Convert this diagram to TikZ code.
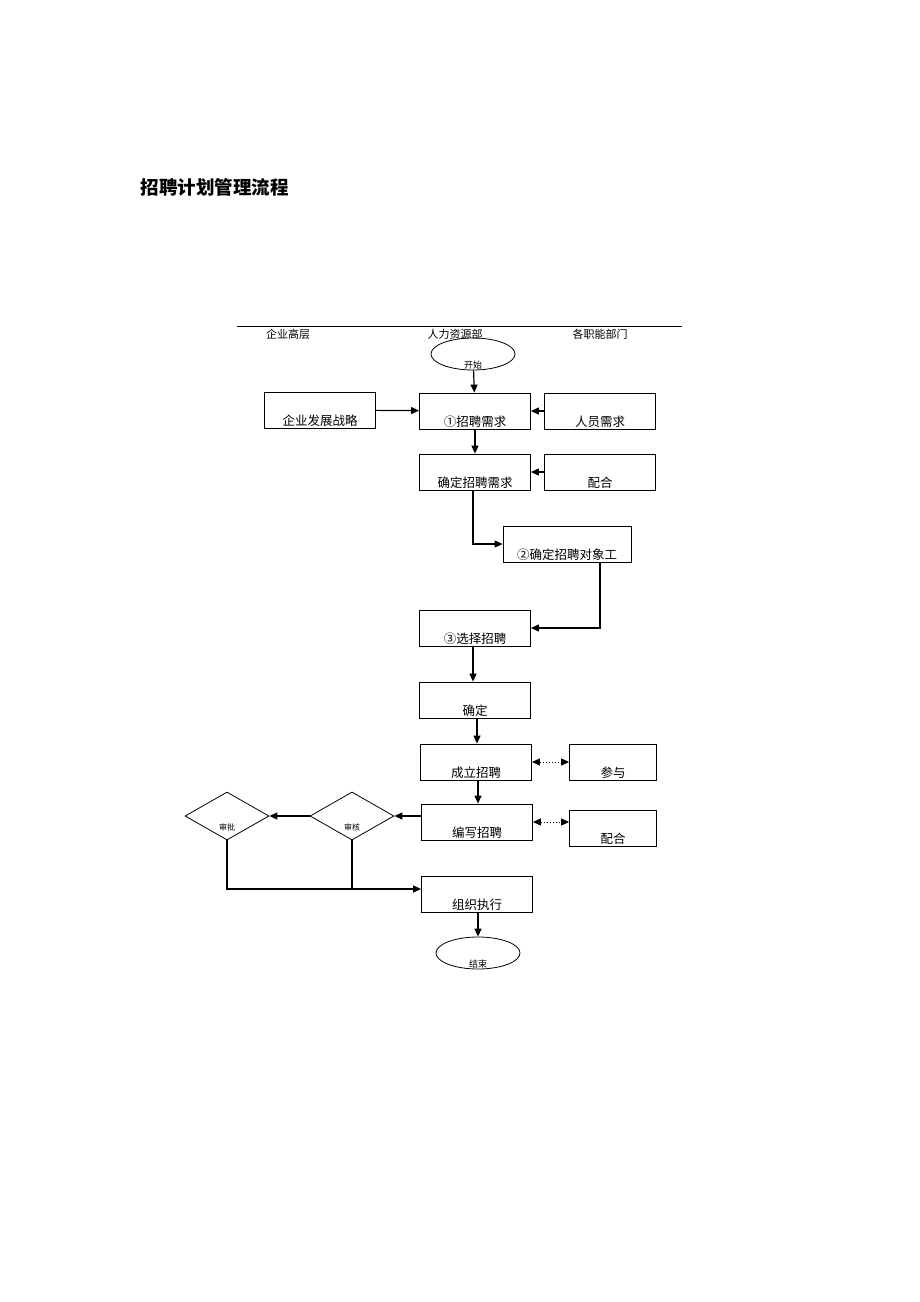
\documentclass[tikz,border=0pt]{standalone}
\usepackage{fontspec}
\newfontfamily\cjk{Noto Sans CJK SC}
\usetikzlibrary{arrows.meta,shapes.geometric}

\begin{document}
\begin{tikzpicture}[x=1pt, y=-1pt, >={Triangle[length=8pt,width=7pt]},
    every node/.style={font=\cjk\fontsize{12.5}{14}\selectfont},
    box/.style={draw, line width=0.8pt, minimum width=111pt, minimum height=36pt, inner sep=0pt,
        label={[anchor=south, inner sep=1.5pt]south:#1}},
    smallbox/.style={box=#1, minimum width=87pt},
    endcap/.style={draw, ellipse, line width=0.8pt, minimum width=84pt, minimum height=32pt, inner sep=0pt,
        label={[anchor=south, inner sep=1pt, font=\cjk\fontsize{9}{10}\selectfont]south:#1}},
    check/.style={draw, diamond, aspect=1.75, line width=0.8pt, minimum width=84pt, minimum height=48pt, inner sep=0pt},
    flow/.style={->, line width=1.2pt},
    link/.style={<->, dotted, line width=1pt}]
    \useasboundingbox (0,0) rectangle (920,1302);

    % Title
    \node[anchor=west, font=\cjk\bfseries\fontsize{18.5}{21}\selectfont] (title) at (137,187) {招聘计划管理流程};

    % Header line with the three columns
    \draw[line width=0.8pt] (237,326) coordinate (hl) -- (682,326) coordinate (hr);
    \node[font=\cjk\fontsize{11}{12}\selectfont] (colA) at (288,334) {企业高层};
    \node[font=\cjk\fontsize{11}{12}\selectfont] (colB) at (455,334) {人力资源部};
    \node[font=\cjk\fontsize{11}{12}\selectfont] (colC) at (600,334) {各职能部门};

    % Start
    \node[endcap=开始] (start) at (473,354) {};

    % Row of demand boxes
    \node[box=企业发展战略] (strategy) at (320,410) {};
    \node[box=①招聘需求] (demand) at (475,411) {};
    \node[box=人员需求] (staff) at (600,411) {};

    % Confirm the demand
    \node[box=确定招聘需求] (confirm) at (475,472) {};
    \node[box=配合] (coop) at (600,472) {};

    % Target of recruitment
    \node[box=②确定招聘对象工, minimum width=128pt] (target) at (567,544) {};

    % Choose the channel
    \node[box=③选择招聘] (choose) at (475,628) {};
    \node[box=确定] (fix) at (475,700) {};

    % Set up the team
    \node[box=成立招聘] (team) at (476,762) {};
    \node[smallbox=参与] (join) at (613,762) {};

    % Write the plan
    \node[box=编写招聘] (write) at (477,822) {};
    \node[smallbox=配合] (coop2) at (613,828) {};

    % Review and approve
    \node[check] (review) at (352,816) {};
    \node[font=\cjk\fontsize{8}{9}\selectfont] (reviewt) at (352,827) {审核};
    \node[check] (approve) at (227,816) {};
    \node[font=\cjk\fontsize{8}{9}\selectfont] (approvet) at (227,827) {审批};

    % Carry out and end
    \node[box=组织执行] (run) at (477,894) {};
    \node[endcap=结束] (finish) at (478,953) {};
    \coordinate (runin) at ([yshift=5pt]run.west);

    % Connectors
    \draw[flow] (start) -- (demand);
    \draw[flow] (strategy) -- (demand);
    \draw[flow] (staff) -- (demand);
    \draw[flow] (demand) -- (confirm);
    \draw[flow] (coop) -- (confirm);
    \draw[flow] (confirm.south -| 473,0) |- (target.west);
    \draw[flow] (target.south -| 600,0) |- (choose.east);
    \draw[flow] (choose.south -| 473,0) -- (fix.north -| 473,0);
    \draw[flow] (fix.south -| 477,0) -- (team.north -| 477,0);
    \draw[link] (team) -- (join);
    \draw[flow] (team.south -| 478,0) -- (write.north -| 478,0);
    \draw[link] (write.east) -- (coop2.west |- write.east);
    \draw[flow] (write.west |- review.east) -- (review.east);
    \draw[flow] (review) -- (approve);
    \draw[flow] (approve.south) |- (runin);
    \draw[line width=1.2pt] (review.south) -- (review.south |- runin);
    \draw[flow] (run.south -| 478,0) -- (finish);
\end{tikzpicture}
\end{document}
